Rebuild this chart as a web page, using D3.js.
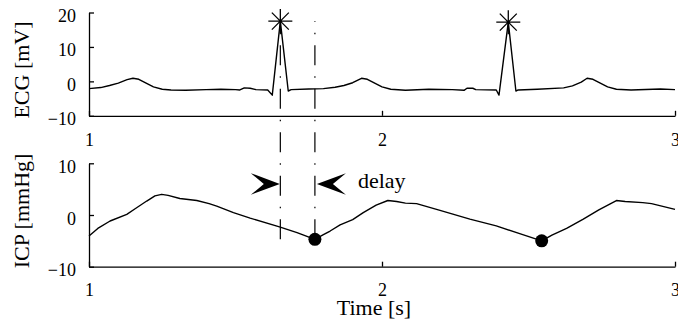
<!DOCTYPE html>
<html>
<head>
<meta charset="utf-8">
<script src="https://cdn.jsdelivr.net/npm/d3@7"></script>
<style>
  html, body { margin: 0; padding: 0; background: #fff; }
  svg { display: block; }
  text { font-family: "Liberation Serif", "DejaVu Serif", serif; fill: #000; }
</style>
</head>
<body>
<script>
// ECG trace: time [s] and voltage [mV]
const ecgTime = [1.000, 1.040, 1.070, 1.100, 1.130, 1.150, 1.170, 1.190, 1.220, 1.250, 1.280, 1.330, 1.400, 1.450, 1.500,
  1.515, 1.530, 1.550, 1.570, 1.610, 1.6255, 1.653, 1.680, 1.690, 1.750, 1.800, 1.840, 1.870, 1.900,
  1.930, 1.950, 1.970, 2.000, 2.030, 2.080, 2.160, 2.240, 2.280, 2.290, 2.310, 2.320, 2.390, 2.3993,
  2.431, 2.457, 2.465, 2.530, 2.620, 2.650, 2.680, 2.700, 2.720, 2.740, 2.770, 2.800, 2.850, 2.950, 3.000];
const ecgValue = [-2.1, -1.8, -1.2, -0.5, 0.5, 0.9, 0.6, -0.3, -1.6, -2.3, -2.5, -2.6, -2.4, -2.3, -2.4,
  -2.5, -1.9, -2.0, -2.4, -2.5, -4.0, 17.5, -2.8, -2.4, -2.2, -2.1, -1.7, -1.2, -0.4,
  0.9, 0.6, -0.3, -1.6, -2.3, -2.6, -2.3, -2.4, -2.6, -2.0, -2.0, -2.4, -2.5, -4.0,
  17.2, -2.8, -2.5, -2.3, -1.9, -1.3, -0.2, 0.9, 0.6, -0.3, -1.6, -2.3, -2.5, -2.2, -2.4];

// ICP trace: time [s] and pressure [mmHg]
const icpTime = [1.000, 1.030, 1.072, 1.129, 1.160, 1.197, 1.225, 1.248, 1.270, 1.310, 1.368, 1.410,
  1.436, 1.493, 1.550, 1.650, 1.710, 1.771, 1.800, 1.823, 1.857, 1.900, 1.936, 1.980, 2.020,
  2.050, 2.080, 2.118, 2.198, 2.300, 2.390, 2.470, 2.545, 2.580, 2.630, 2.687, 2.740, 2.800,
  2.830, 2.890, 2.920, 3.000];
const icpValue = [-4.05, -2.6, -1.16, 0.13, 1.3, 2.7, 3.7, 4.0, 3.8, 3.2, 2.8, 2.2,
  1.7, 0.45, -0.6, -2.3, -3.4, -4.7, -3.8, -3.1, -1.9, -0.9, 0.45, 1.9, 2.8,
  2.6, 2.3, 2.2, 0.9, -0.8, -2.1, -3.6, -5.0, -3.9, -2.6, -0.8, 1.0, 2.8,
  2.6, 2.4, 2.2, 1.1];

// Detected R peaks (ECG) and pressure minima (ICP)
const peakTime = [1.653, 2.431];
const peakValue = [17.5, 17.2];
const minTime = [1.771, 2.545];
const minValue = [-4.7, -5.0];

// Axis ticks and labels
const xTicks = [1, 2, 3];
const ecgTicks = [-10, 0, 10, 20];
const icpTicks = [-10, 0, 10];
const ecgLabel = "ECG [mV]";
const icpLabel = "ICP [mmHg]";
const timeLabel = "Time [s]";
const delayLabel = "delay";
const delayLevel = 6;   // height of the delay arrows on the ICP axis

const W = 678, H = 324;
const svg = d3.select("body").append("svg").attr("width", W).attr("height", H);
svg.append("rect").attr("width", W).attr("height", H).attr("fill", "#fff");

const x = d3.scaleLinear().domain([1, 3]).range([89, 675]);
const yEcg = d3.scaleLinear().domain([-10, 20]).range([115.8, 12.5]);
const yIcp = d3.scaleLinear().domain([-10, 10]).range([266.7, 163.3]);

function drawPanel(y, yTickVals, label, labelCenter) {
  const g = svg.append("g");
  const ay = g.append("g").attr("transform", `translate(${x.range()[0]},0)`)
    .call(d3.axisLeft(y).tickValues(yTickVals).tickSizeInner(-5).tickSizeOuter(0).tickPadding(13).tickFormat(d3.format("d")));
  const ax = g.append("g").attr("transform", `translate(0,${y.range()[0]})`)
    .call(d3.axisBottom(x).tickValues(xTicks).tickSizeInner(-5).tickSizeOuter(0).tickPadding(17).tickFormat(d3.format("d")));
  [ay, ax].forEach(a => {
    a.attr("font-family", null).attr("font-size", null);
    a.selectAll("path, line").attr("stroke", "#000").attr("stroke-width", 1.3);
    a.selectAll("text").style("font-size", "18px");
  });
  ay.selectAll("text").attr("dy", "0.5em");
  g.append("text")
    .attr("transform", `translate(29,${labelCenter}) rotate(-90)`)
    .attr("text-anchor", "middle")
    .style("font-size", "22px")
    .text(label);
}

drawPanel(yEcg, ecgTicks, ecgLabel, 70);
drawPanel(yIcp, icpTicks, icpLabel, 211);

svg.append("text")
  .attr("x", 374).attr("y", 315)
  .attr("text-anchor", "middle")
  .style("font-size", "22px")
  .text(timeLabel);

const line = d3.line();

// signals
svg.append("path")
  .attr("d", line(ecgTime.map((t, i) => [x(t), yEcg(ecgValue[i])])))
  .attr("fill", "none").attr("stroke", "#000").attr("stroke-width", 1.4).attr("stroke-linejoin", "round");
svg.append("path")
  .attr("d", line(icpTime.map((t, i) => [x(t), yIcp(icpValue[i])])))
  .attr("fill", "none").attr("stroke", "#000").attr("stroke-width", 1.4).attr("stroke-linejoin", "round");

// dash-dot guides from the pressure minimum up to the R-peak level
const guideBottom = yIcp(minValue[0]);
const guideTop = yEcg(peakValue[0]);
[peakTime[0], minTime[0]].forEach(t => {
  svg.append("path")
    .attr("d", `M${x(t)},${guideBottom}V${guideTop}`)
    .attr("fill", "none").attr("stroke", "#000").attr("stroke-width", 1.2)
    .attr("stroke-dasharray", "20,11,1.5,11");
});

// asterisk markers on the R peaks
const starR = 12, starD = starR * Math.SQRT1_2;
peakTime.forEach((t, i) => {
  const cx = x(t), cy = yEcg(peakValue[i]);
  svg.append("path")
    .attr("d", `M${cx - starR},${cy}H${cx + starR}M${cx},${cy - starR}V${cy + starR}` +
               `M${cx - starD},${cy - starD}L${cx + starD},${cy + starD}M${cx - starD},${cy + starD}L${cx + starD},${cy - starD}`)
    .attr("stroke", "#000").attr("stroke-width", 1.3).attr("fill", "none");
});

// filled dots on the ICP minima
svg.selectAll("circle.min").data(minTime).enter().append("circle")
  .attr("class", "min")
  .attr("cx", t => x(t))
  .attr("cy", (t, i) => yIcp(minValue[i]))
  .attr("r", 6.5).attr("fill", "#000");

// delay arrows pointing at the two guides
const ay = yIcp(delayLevel);
const aLen = 29, aHalf = 10.8, aNotch = 16;
function arrowHead(tipX, dir) {
  // dir = +1 points right, -1 points left
  const bx = tipX - dir * aLen, nx = tipX - dir * aNotch;
  return `M${tipX},${ay}L${bx},${ay - aHalf}L${nx},${ay}L${bx},${ay + aHalf}Z`;
}
svg.append("path").attr("d", arrowHead(x(peakTime[0]) - 0.5, 1)).attr("fill", "#000");
svg.append("path").attr("d", arrowHead(x(minTime[0]) + 2, -1)).attr("fill", "#000");

svg.append("text")
  .attr("x", x(minTime[0]) + 2 + aLen + 12).attr("y", ay + 4)
  .style("font-size", "22px")
  .text(delayLabel);
</script>
</body>
</html>
